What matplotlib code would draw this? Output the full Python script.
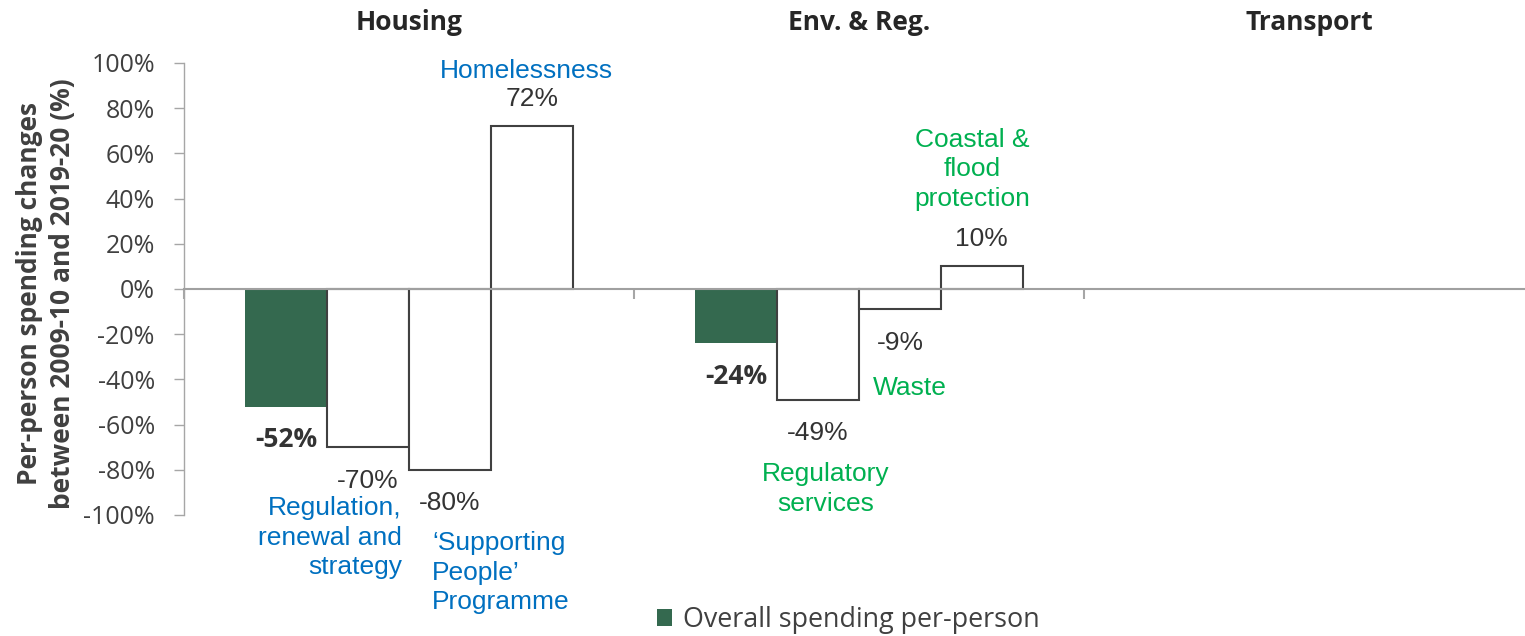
import matplotlib
matplotlib.use('Agg')
import matplotlib.pyplot as plt
from matplotlib.patches import Patch

# data
groups = ['Housing', 'Env. & Reg.', 'Transport']
overall = [-52, -24, None]
sub_values = [[-70, -80, 72], [-49, -9, 10], []]
sub_names = [
    ['Regulation,\nrenewal and\nstrategy', '\u2018Supporting\nPeople\u2019\nProgramme', 'Homelessness'],
    ['Regulatory\nservices', 'Waste', 'Coastal &\nflood\nprotection'],
    [],
]
yticks = list(range(-100, 101, 20))

GREEN = '#34694F'
BLUE = '#0070C0'
LGREEN = '#00B050'
DARK = '#333333'
AXIS = '#A6A6A6'
name_colors = [BLUE, LGREEN, None]

# category label placement: (x within group, y, ha)
name_pos = [
    [(0.484, -110, 'right'), (0.551, -125.5, 'left'), (0.762, 96.5, 'center')],
    [(0.427, -88.5, 'center'), (0.531, -44, 'left'), (0.751, 53, 'center')],
    [],
]

fig = plt.figure(figsize=(15.25, 6.36), dpi=100)
ax = fig.add_axes([184 / 1525, 1 - 515 / 636, 1 - 184 / 1525, (515 - 63) / 636])

bw = 0.1817
start = (1 - 4 * bw) / 2


def label(x, v, bold=False):
    off = -24 if v < 0 else 19.5
    ax.annotate(f'{v}%', (x, v), xytext=(0, off), textcoords='offset points',
                ha='center', va='center', color=DARK, fontsize=19,
                fontfamily='Open Sans' if bold else 'Liberation Sans',
                fontweight='bold' if bold else 'normal')


for i, g in enumerate(groups):
    x0 = i + start + bw / 2
    if overall[i] is not None:
        ax.bar(x0, overall[i], width=bw, color=GREEN, zorder=2)
        label(x0, overall[i], bold=True)
    for k, v in enumerate(sub_values[i]):
        xc = x0 + (k + 1) * bw
        ax.bar(xc, v, width=bw, facecolor='white', edgecolor='#404040',
               linewidth=1.5, zorder=3)
        label(xc, v)
    for name, (px, py, ha) in zip(sub_names[i], name_pos[i]):
        ax.text(i + px, py, name, ha=ha, va='center', color=name_colors[i],
                fontsize=19, fontfamily='Liberation Sans', linespacing=1.28)
    ax.text(i + 0.5, 118, g, ha='center', va='center', fontsize=19,
            fontweight='bold', fontfamily='Open Sans', color='#262626')

ax.set_ylim(-100, 100)
ax.set_xlim(0, (1525 - 184) / 450)
ax.set_yticks(yticks)
ax.set_yticklabels([f'{t}%' for t in yticks], fontfamily='Open Sans',
                   fontsize=18, color='#404040')
ax.set_xticks([0, 1, 2])
ax.set_xticklabels([])
ax.tick_params(axis='y', direction='out', length=7, color=AXIS, width=1, pad=14)
ax.tick_params(axis='x', direction='out', length=7, color=AXIS, width=1.5)

for s in ['top', 'right']:
    ax.spines[s].set_visible(False)
ax.spines['bottom'].set_position(('data', 0))
ax.spines['bottom'].set_color('#A0A0A0')
ax.spines['bottom'].set_linewidth(1.5)
ax.spines['bottom'].set_zorder(4)
ax.spines['left'].set_color(AXIS)
ax.spines['left'].set_linewidth(1)

ax.set_ylabel('Per-person spending changes\nbetween 2009-10 and 2019-20 (%)',
              fontfamily='Open Sans', fontweight='bold', fontsize=19,
              color='#404040', linespacing=1.3)
ax.yaxis.set_label_coords(-0.0805, 0.49)

fig.legend(handles=[Patch(facecolor=GREEN, label='Overall spending per-person')],
           loc='center', bbox_to_anchor=(848 / 1525, 1 - 620 / 636),
           frameon=False, handlelength=0.56, handleheight=0.56, handletextpad=0.4,
           prop={'family': 'Open Sans', 'size': 19.4}, labelcolor='#404040')

fig.savefig('out.png', dpi=100)
